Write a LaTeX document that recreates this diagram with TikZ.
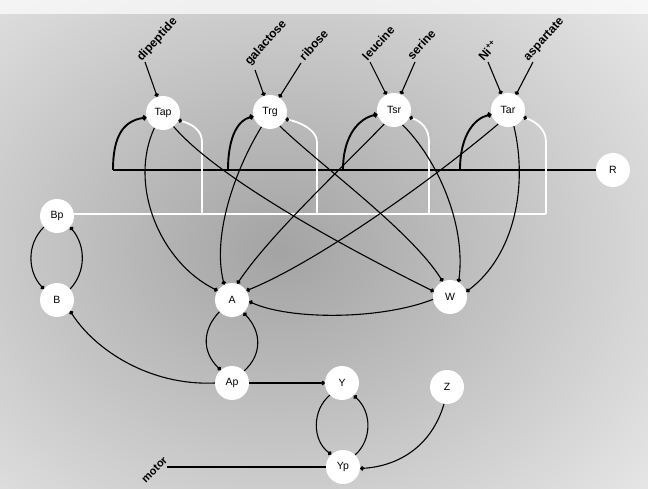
\documentclass[tikz,border=0pt]{standalone}
\usepackage{fontspec}
\setmainfont{Liberation Sans}
\usetikzlibrary{arrows.meta}
\begin{document}
\begin{tikzpicture}[x=1pt,y=-1pt,
  st/.style={circle,fill=white,minimum size=34pt,inner sep=0pt,font=\fontsize{10.5}{12}\selectfont},
  lab/.style={font=\bfseries\fontsize{12}{14}\selectfont,rotate=48,anchor=west,inner sep=0.5pt},
  ln/.style={line width=1.1pt,black},
  arr/.style={ln,-{Circle[length=4pt,width=4.4pt]}},
  thk/.style={line width=1.9pt,black,-{Circle[length=4.6pt,width=5pt]}},
  wht/.style={line width=1.8pt,white},
  whta/.style={wht,-{Circle[length=3.4pt,width=3.8pt,color=black]}}]
\useasboundingbox (0,0) rectangle (648,489);
\fill[black!10] (0,0) rectangle (648,489);
\begin{scope}
\clip (0,0) rectangle (648,489);
\shade[inner color=black!36, outer color=black!10] (280,250) ellipse [x radius=470, y radius=380];
\fill[white,opacity=0.7] (0,0) rectangle (648,14);
\end{scope}

% nodes
\node[st] (Tap) at (163,113) {Tap};
\node[st] (Trg) at (270,112) {Trg};
\node[st] (Tsr) at (394,110) {Tsr};
\node[st] (Tar) at (508,110) {Tar};
\node[st] (R)   at (613,170) {R};
\node[st] (Bp)  at (57,216) {Bp};
\node[st] (B)   at (57,300) {B};
\node[st] (A)   at (232,300) {A};
\node[st] (W)   at (450,297) {W};
\node[st] (Ap)  at (232,383) {Ap};
\node[st] (Y)   at (342,383) {Y};
\node[st] (Z)   at (447,387) {Z};
\node[st] (Yp)  at (343,467) {Yp};

% input labels
\coordinate (cdip) at (145,62);
\coordinate (cgal) at (255,70);
\coordinate (crib) at (301,63);
\coordinate (cleu) at (370,62);
\coordinate (cser) at (415,62);
\coordinate (cni)  at (488,62);
\coordinate (casp) at (533,62);
\node[lab] at (139,60) {dipeptide};
\node[lab] at (247,64) {galactose};
\node[lab] at (301,59) {ribose};
\node[lab] at (364,59) {leucine};
\node[lab] at (409,58) {serine};
\node[lab] at (480,59) {Ni\textsuperscript{++}};
\node[lab] at (526,60) {aspartate};
\draw[arr] (cdip) -- (Tap);
\draw[arr] (cgal) -- (Trg);
\draw[arr] (crib) -- (Trg);
\draw[arr] (cleu) -- (Tsr);
\draw[arr] (cser) -- (Tsr);
\draw[arr] (cni) -- (Tar);
\draw[arr] (casp) -- (Tar);

% R line
\coordinate (r0) at (113,170);
\coordinate (r1) at (228,170);
\coordinate (r2) at (343,170);
\coordinate (r3) at (460,170);
\draw[line width=1.9pt] (r0) -- (R.west);
\draw[thk] (r0) .. controls (113,135) and (124,121) .. (Tap.195);
\draw[thk] (r1) .. controls (228,135) and (239,120) .. (Trg.195);
\draw[thk] (r2) .. controls (343,133) and (361,118) .. (Tsr.195);
\draw[thk] (r3) .. controls (460,133) and (476,118) .. (Tar.195);

% white (demethylation) lines
\coordinate (w0) at (202,214);
\coordinate (w1) at (317,214);
\coordinate (w2) at (429,214);
\coordinate (w3) at (546,214);
\draw[wht] (Bp.east) ++(0,-2) -- (w3);
\draw[whta] (w0) -- (202,142) .. controls (202,130) and (192,124) .. (Tap.-25);
\draw[whta] (w1) -- (317,142) .. controls (317,130) and (300,122) .. (Trg.-25);
\draw[whta] (w2) -- (429,142) .. controls (429,130) and (423,122) .. (Tsr.-25);
\draw[whta] (w3) -- (546,142) .. controls (546,130) and (537,122) .. (Tar.-25);

% receptor -> A / W
\draw[arr] (Tap.240) .. controls (128,185) and (160,262) .. (A.147);
\draw[arr] (Tap.-52) .. controls (215,175) and (330,240) .. (W.161);
\draw[arr] (Trg.240) .. controls (235,170) and (212,235) .. (A.117);
\draw[arr] (Trg.-55) .. controls (320,165) and (410,230) .. (W.115);
\draw[arr] (Tsr.235) .. controls (340,170) and (270,235) .. (A.72);
\draw[arr] (Tsr.-60) .. controls (438,160) and (466,225) .. (W.60);
\draw[arr] (Tar.235) .. controls (420,190) and (310,265) .. (A.33);
\draw[arr] (Tar.-70) .. controls (528,185) and (515,255) .. (W.18);
\draw[arr] (W.188) .. controls (380,320) and (290,320) .. (A.-5);

% A / Ap
\draw[arr] (A.223) .. controls (202,330) and (202,352) .. (Ap.131);
\draw[arr] (Ap.45) .. controls (262,355) and (262,332) .. (A.-48);
\draw[arr] (Ap.180) .. controls (150,386) and (95,350) .. (B.-40);
\draw[arr] (Ap) -- (Y);

% B / Bp
\draw[arr] (Bp.220) .. controls (26,245) and (28,272) .. (B.140);
\draw[arr] (B.40) .. controls (86,272) and (86,246) .. (Bp.-40);

% Y / Yp / Z
\draw[arr] (Y.225) .. controls (312,410) and (312,440) .. (Yp.133);
\draw[arr] (Yp.45) .. controls (372,440) and (372,412) .. (Y.-47);
\draw[arr] (Z.-100) .. controls (432,445) and (400,466) .. (Yp.-5);
\coordinate (cmot) at (167,467);
\draw[ln] (cmot) -- (Yp);
\node[font=\bfseries\fontsize{11}{12}\selectfont,rotate=45,anchor=east,inner sep=0.5pt] at (166,458) {motor};
\end{tikzpicture}
\end{document}
